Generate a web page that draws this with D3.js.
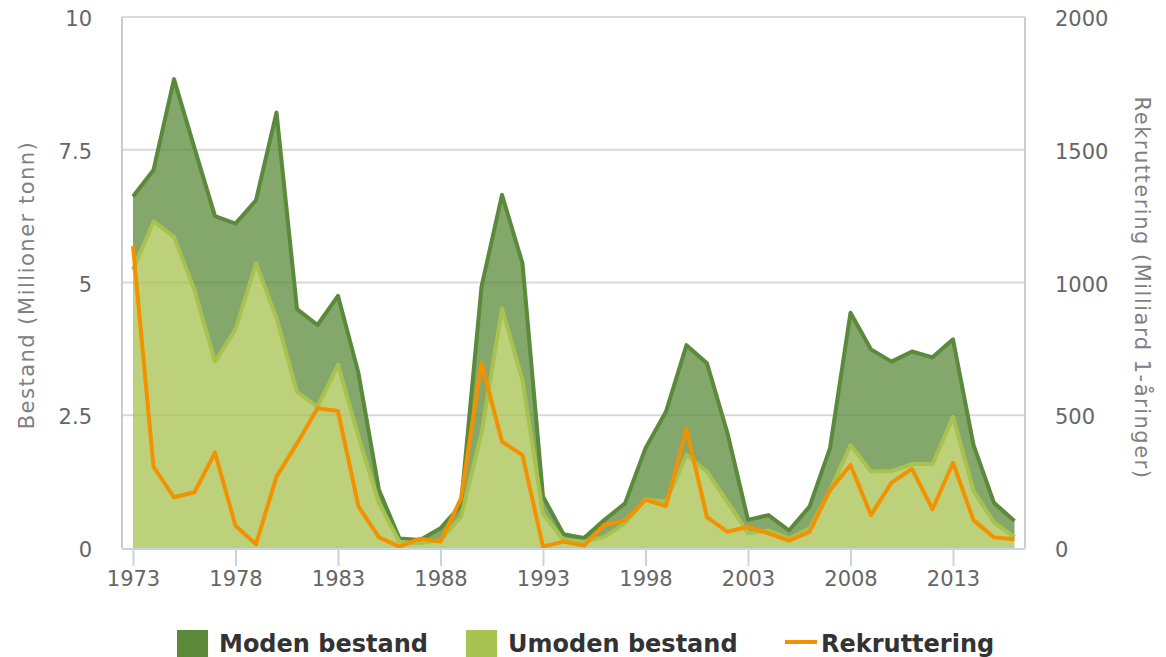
<!DOCTYPE html>
<html>
<head>
<meta charset="utf-8">
<script src="https://cdn.jsdelivr.net/npm/d3@7"></script>
<style>
  body { margin: 0; background: #fff; }
  svg text { font-family: "DejaVu Sans", Verdana, sans-serif; }
</style>
</head>
<body>
<svg id="chart" width="1166" height="657"></svg>
<script>
// years on the x axis
const years = d3.range(1973, 2017);
// immature stock (million tonnes)
const umoden = [5.24, 6.15, 5.86, 4.86, 3.51, 4.12, 5.36, 4.33, 2.94, 2.66, 3.45, 2.10, 0.84, 0.12, 0.09, 0.15, 0.59, 2.16, 4.51, 3.16,
  0.65, 0.15, 0.12, 0.21, 0.47, 0.92, 0.87, 1.75, 1.44, 0.87, 0.28, 0.33, 0.18, 0.37, 1.09, 1.94, 1.44, 1.45, 1.58, 1.58, 2.47, 1.08, 0.48, 0.21];
// mature stock (million tonnes), stacked on top of immature
const moden = [1.38, 0.97, 2.97, 2.67, 2.74, 1.99, 1.19, 3.87, 1.56, 1.54, 1.30, 1.19, 0.25, 0.06, 0.06, 0.22, 0.22, 2.76, 2.14, 2.20,
  0.32, 0.11, 0.07, 0.32, 0.37, 0.96, 1.70, 2.07, 2.04, 1.29, 0.25, 0.29, 0.15, 0.41, 0.79, 2.49, 2.30, 2.06, 2.12, 2.01, 1.46, 0.86, 0.37, 0.30];
// recruitment (billion 1-year olds)
const rekruttering = [1137, 306, 191, 210, 359, 84, 14, 269, 394, 526, 516, 156, 40, 5, 35, 24, 187, 698, 400, 350,
  5, 24, 9, 87, 103, 181, 158, 447, 116, 61, 80, 55, 28, 61, 218, 313, 124, 246, 298, 146, 321, 105, 40, 33];
const xTicks = [1973, 1978, 1983, 1988, 1993, 1998, 2003, 2008, 2013];
const leftTicks = [0, 2.5, 5, 7.5, 10];
const rightTicks = [0, 500, 1000, 1500, 2000];

const svg = d3.select('#chart');
const plotLeft = 122, plotRight = 1025, plotTop = 17, plotBottom = 548;

const x = d3.scaleLinear().domain([1973, 2016]).range([133, 1014.5]);
const yLeft = d3.scaleLinear().domain([0, 10]).range([plotBottom, plotTop]);
const yRight = d3.scaleLinear().domain([0, 2000]).range([plotBottom, plotTop]);

const table = years.map((yr, i) => ({ year: yr, umoden: umoden[i], moden: moden[i], rek: rekruttering[i] }));
const stacked = d3.stack().keys(['umoden', 'moden'])(table);

// grid lines
svg.append('g')
  .selectAll('line')
  .data(leftTicks.slice(1))
  .enter()
  .append('line')
  .attr('x1', plotLeft).attr('x2', plotRight)
  .attr('y1', d => yLeft(d)).attr('y2', d => yLeft(d))
  .style('stroke', '#d9d9d9')
  .style('stroke-width', 2);

// left and right frame lines
svg.append('line')
  .attr('x1', plotLeft).attr('x2', plotLeft).attr('y1', plotTop).attr('y2', plotBottom)
  .style('stroke', '#cccccc').style('stroke-width', 2);
svg.append('line')
  .attr('x1', plotRight).attr('x2', plotRight).attr('y1', plotTop).attr('y2', plotBottom)
  .style('stroke', '#cccccc').style('stroke-width', 2);

// stacked areas
const colors = { umoden: '#a7c24e', moden: '#5b8a3a' };
const area = d3.area()
  .x(d => x(d.data.year))
  .y0(d => yLeft(d[0]))
  .y1(d => yLeft(d[1]));
const topLine = d3.line()
  .x(d => x(d.data.year))
  .y(d => yLeft(d[1]));

stacked.forEach(layer => {
  svg.append('path')
    .datum(layer)
    .attr('d', area)
    .style('fill', colors[layer.key])
    .style('fill-opacity', 0.75);
});
// outline strokes, mature on top of immature
stacked.slice().reverse().forEach(layer => {
  svg.append('path')
    .datum(layer)
    .attr('d', topLine)
    .style('fill', 'none')
    .style('stroke', colors[layer.key])
    .style('stroke-width', 4)
    .style('stroke-linejoin', 'round');
});

// recruitment line
svg.append('path')
  .datum(table)
  .attr('d', d3.line().x(d => x(d.year)).y(d => yRight(d.rek)))
  .style('fill', 'none')
  .style('stroke', '#f39200')
  .style('stroke-width', 4)
  .style('stroke-linejoin', 'round');

// bottom axis
svg.append('line')
  .attr('x1', plotLeft).attr('x2', plotRight).attr('y1', plotBottom + 1).attr('y2', plotBottom + 1)
  .style('stroke', '#c7d4e6').style('stroke-width', 2);
const xAxis = svg.append('g')
  .attr('transform', `translate(0,${plotBottom + 1})`)
  .call(d3.axisBottom(x).tickValues(xTicks).tickFormat(d3.format('d')).tickSize(17).tickPadding(5));
xAxis.select('.domain').remove();
xAxis.selectAll('line').style('stroke', '#c7d4e6').style('stroke-width', 2);
xAxis.selectAll('text').style('font-size', '21px').style('fill', '#666');

// left axis labels
svg.append('g')
  .selectAll('text')
  .data(leftTicks)
  .enter()
  .append('text')
  .attr('x', 92)
  .attr('y', d => yLeft(d) + 9)
  .attr('text-anchor', 'end')
  .style('font-size', '21px')
  .style('fill', '#666')
  .text(d => d);

// right axis labels
svg.append('g')
  .selectAll('text')
  .data(rightTicks)
  .enter()
  .append('text')
  .attr('x', 1055)
  .attr('y', d => yRight(d) + 9)
  .attr('text-anchor', 'start')
  .style('font-size', '21px')
  .style('fill', '#666')
  .text(d => d);

// axis titles
svg.append('text')
  .attr('transform', 'translate(34,285) rotate(-90)')
  .attr('text-anchor', 'middle')
  .style('font-size', '21px')
  .style('letter-spacing', '1.5px')
  .style('fill', '#808080')
  .text('Bestand (Millioner tonn)');
svg.append('text')
  .attr('transform', 'translate(1135,288) rotate(90)')
  .attr('text-anchor', 'middle')
  .style('font-size', '21px')
  .style('letter-spacing', '1.5px')
  .style('fill', '#808080')
  .text('Rekruttering (Milliard 1-åringer)');

// legend
const legend = svg.append('g').attr('transform', 'translate(0,643)');
legend.append('rect').attr('x', 177).attr('y', -13).attr('width', 31).attr('height', 28).style('fill', '#5b8a3a');
legend.append('text').attr('x', 219).attr('y', 9).text('Moden bestand');
legend.append('rect').attr('x', 466).attr('y', -13).attr('width', 31).attr('height', 28).style('fill', '#a7c24e');
legend.append('text').attr('x', 508).attr('y', 9).text('Umoden bestand');
legend.append('line').attr('x1', 785).attr('x2', 817).attr('y1', -1).attr('y2', -1)
  .style('stroke', '#f39200').style('stroke-width', 4);
legend.append('text').attr('x', 821).attr('y', 9).text('Rekruttering');
legend.selectAll('text')
  .style('font-size', '24px')
  .style('font-weight', 'bold')
  .style('fill', '#333');
</script>
</body>
</html>
